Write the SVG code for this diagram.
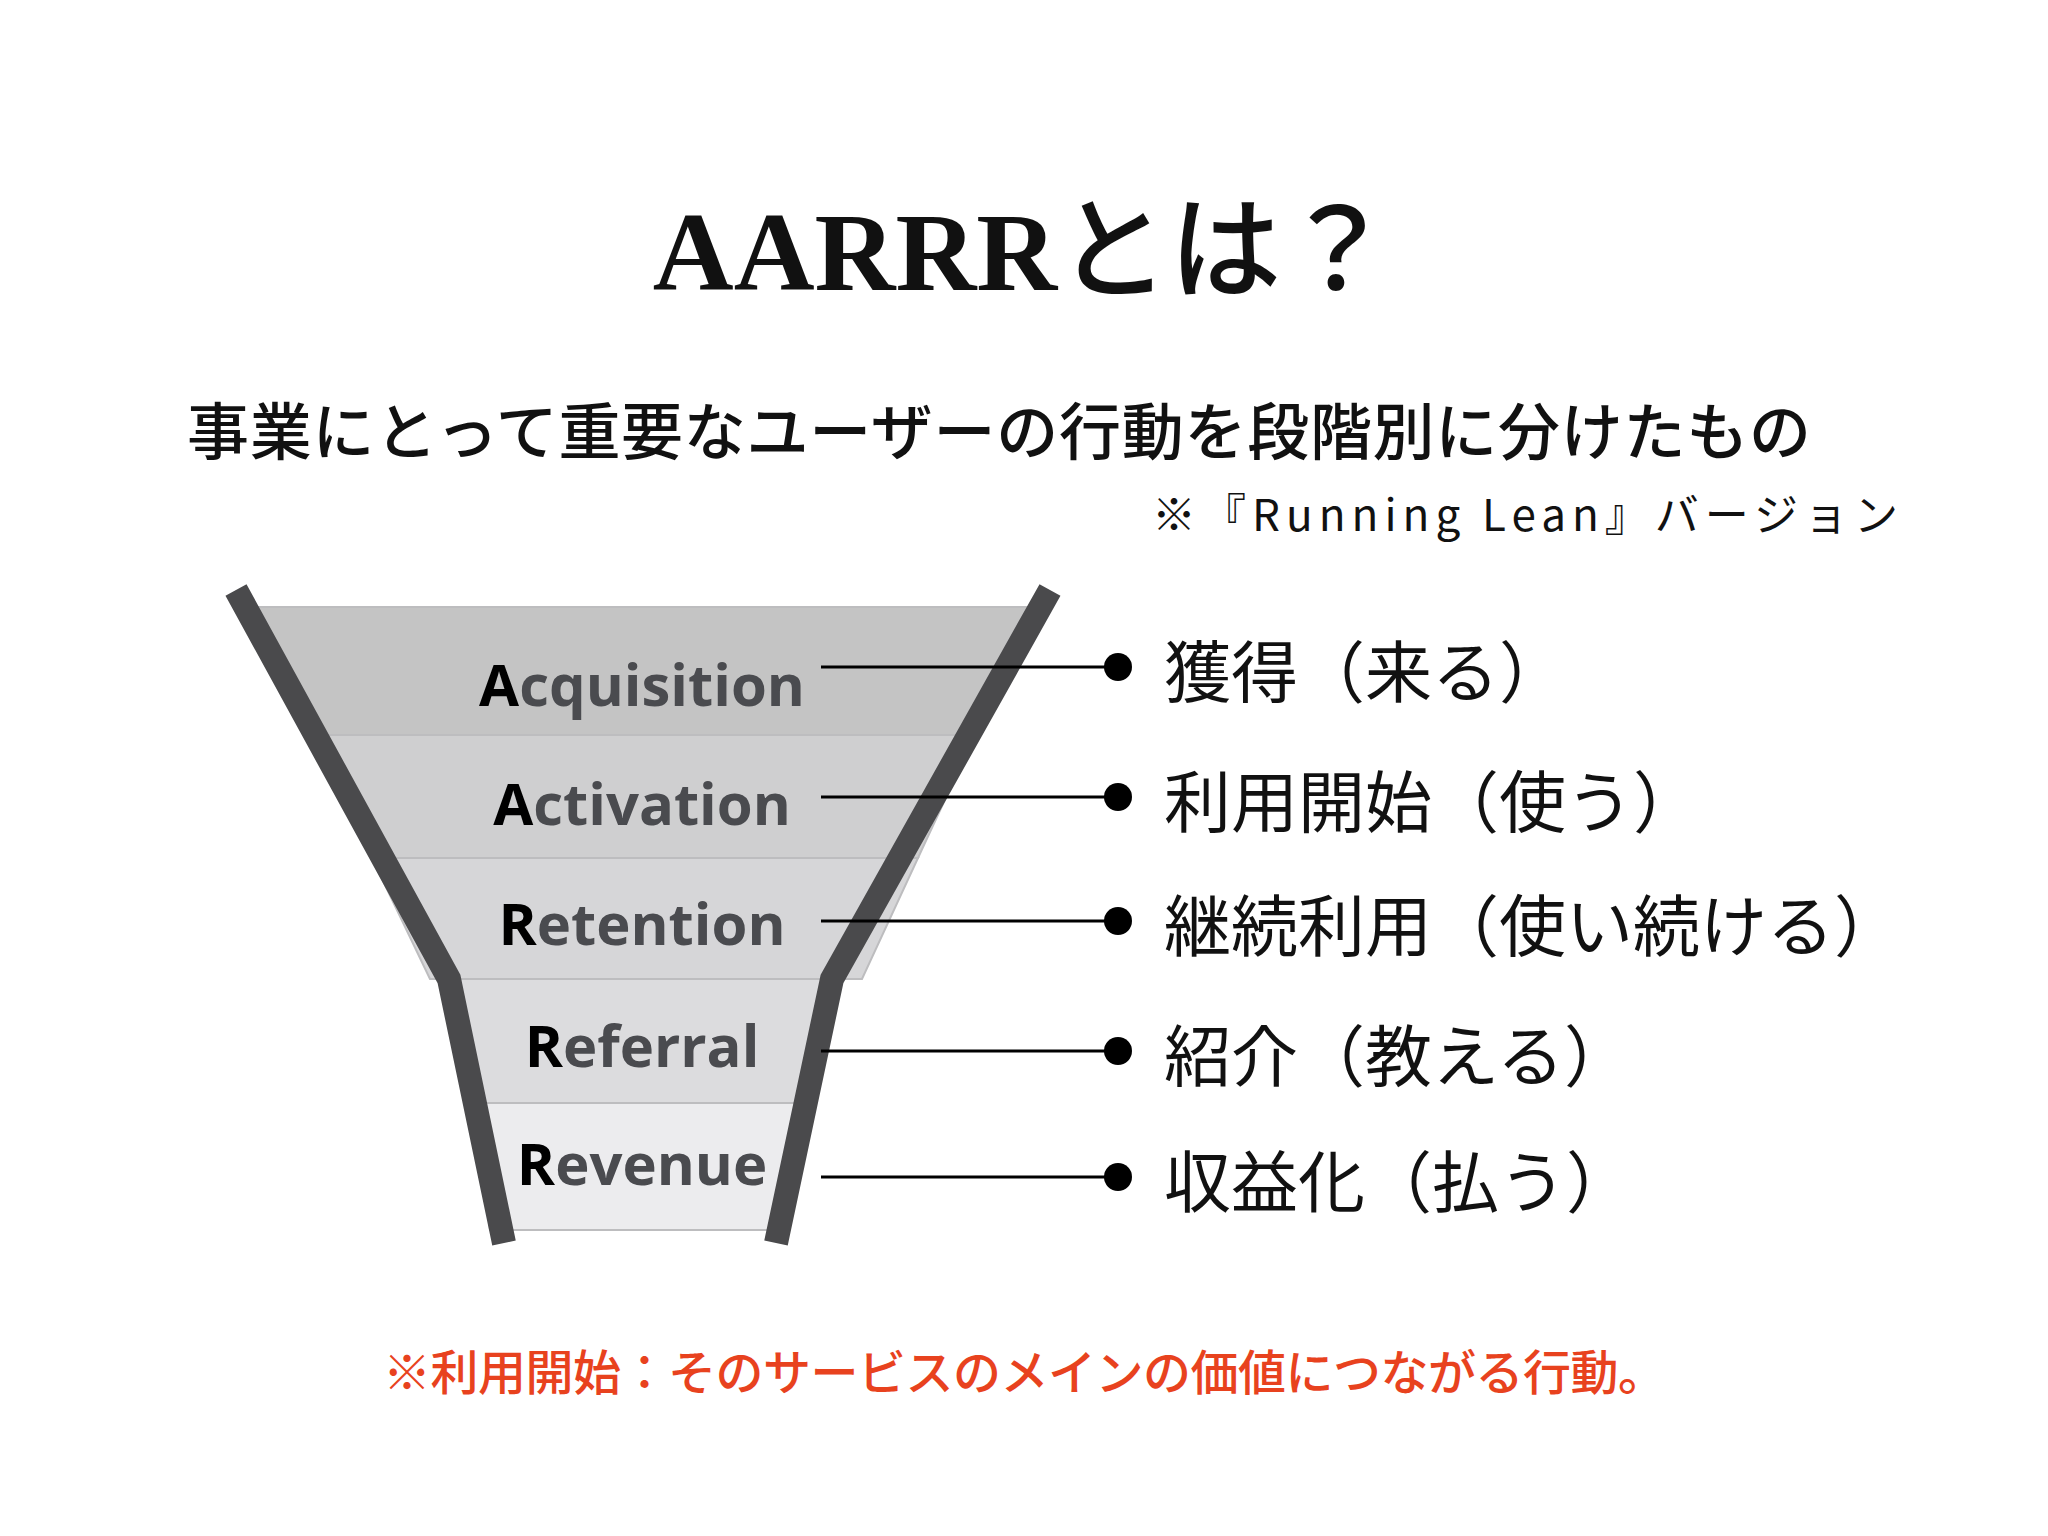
<svg xmlns="http://www.w3.org/2000/svg" width="2048" height="1536" viewBox="0 0 2048 1536">
<style>
.jp{font-family:"Noto Sans CJK JP","Noto Sans",sans-serif;}
.stage{font-family:"Open Sans","Liberation Sans",sans-serif;font-weight:700;font-size:58px;fill:#4a4b4f;text-anchor:middle;}
.stage tspan.i{fill:#000;}
.lbl{font-family:"Noto Sans CJK JP",sans-serif;font-size:67px;fill:#111;dominant-baseline:central;}
.wall{fill:none;stroke:#4a4a4c;stroke-width:24;stroke-linejoin:miter;}
.band{stroke:#bdbdbf;stroke-width:2;}
.con{stroke:#000;stroke-width:3;}
</style>
<rect width="2048" height="1536" fill="#fff"/>
<text x="1023" y="290" font-family="Liberation Serif,serif" font-weight="700" font-size="112" text-anchor="middle" fill="#111">AARRR<tspan font-family="Noto Sans CJK JP,sans-serif" font-weight="500">とは？</tspan></text>
<text class="jp" x="187" y="455" font-size="62" font-weight="500" textLength="1624" fill="#111">事業にとって重要なユーザーの行動を段階別に分けたもの</text>
<text class="jp" x="1152" y="531" font-size="44" textLength="746" fill="#111">※『Running Lean』バージョン</text>
<g id="funnel">
<polygon class="band" points="254,607 1033,607 975,735 314,735" fill="#c4c4c4"/>
<polygon class="band" points="314,735 975,735 918,858 372,858" fill="#cfcfd0"/>
<polygon class="band" points="372,858 918,858 862,979 430,979" fill="#d6d6d8"/>
<polygon class="band" points="460,979 822,979 800,1103 475,1103" fill="#dcdcde"/>
<polygon class="band" points="475,1103 800,1103 780,1230 490,1230" fill="#ececee"/>
<polyline class="wall" points="236,590 449,979 504,1243"/>
<polyline class="wall" points="1050,590 832,979 776,1243"/>
</g>
<g id="stage-acquisition"><text class="stage" x="642" y="706"><tspan class="i">A</tspan>cquisition</text></g>
<g id="stage-activation"><text class="stage" x="642" y="825"><tspan class="i">A</tspan>ctivation</text></g>
<g id="stage-retention"><text class="stage" x="642" y="945"><tspan class="i">R</tspan>etention</text></g>
<g id="stage-referral"><text class="stage" x="642" y="1067"><tspan class="i">R</tspan>eferral</text></g>
<g id="stage-revenue"><text class="stage" x="642" y="1185"><tspan class="i">R</tspan>evenue</text></g>
<g id="connectors">
<line class="con" x1="821" y1="667" x2="1118" y2="667"/><circle cx="1118" cy="667" r="14"/>
<line class="con" x1="821" y1="797" x2="1118" y2="797"/><circle cx="1118" cy="797" r="14"/>
<line class="con" x1="821" y1="921" x2="1118" y2="921"/><circle cx="1118" cy="921" r="14"/>
<line class="con" x1="821" y1="1051" x2="1118" y2="1051"/><circle cx="1118" cy="1051" r="14"/>
<line class="con" x1="821" y1="1177" x2="1118" y2="1177"/><circle cx="1118" cy="1177" r="14"/>
</g>
<g id="label-1"><text class="lbl" x="1164" y="667">獲得（来る）</text></g>
<g id="label-2"><text class="lbl" x="1164" y="797">利用開始（使う）</text></g>
<g id="label-3"><text class="lbl" x="1164" y="921">継続利用（使い続ける）</text></g>
<g id="label-4"><text class="lbl" x="1164" y="1051">紹介（教える）</text></g>
<g id="label-5"><text class="lbl" x="1164" y="1177">収益化（払う）</text></g>
<text class="jp" x="383" y="1390" font-size="48" font-weight="500" textLength="1283" fill="#e8421e">※利用開始：そのサービスのメインの価値につながる行動。</text>
</svg>
